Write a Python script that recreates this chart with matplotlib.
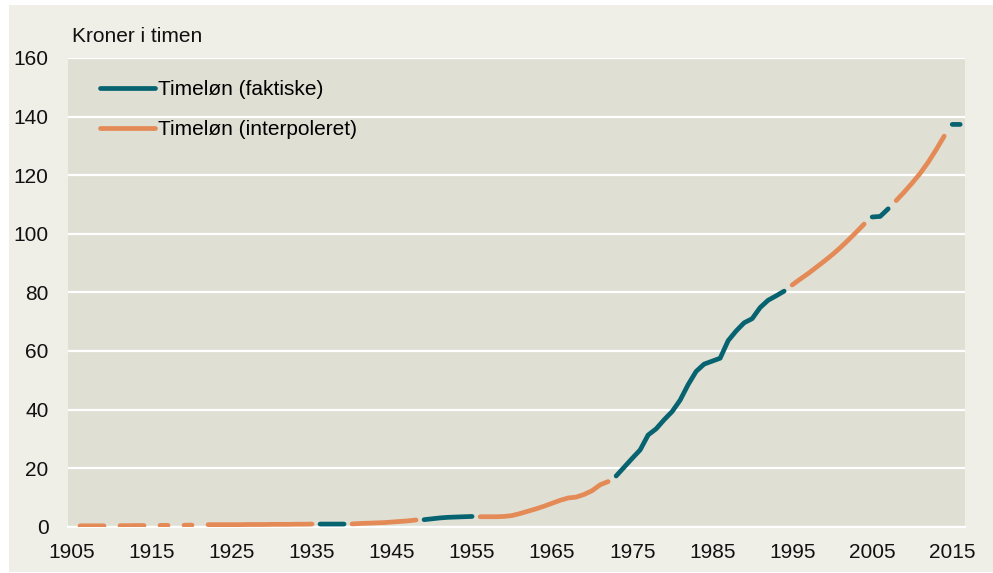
import numpy as np
import matplotlib.pyplot as plt
from matplotlib.patches import Rectangle

plt.rcParams['font.family'] = ['Liberation Sans', 'DejaVu Sans']

nan = np.nan

# år 1906-2016
years = list(range(1906, 2017))

# faktiske timelønninger (kr.)
faktiske = (
    [nan] * 4 + [0.35] + [nan] * 4 + [0.4] + [nan] * 2 + [0.45] + [nan] * 2 + [0.6]   # 1906-1921
    + [nan] * 14                                                                        # 1922-1935
    + [0.9, 0.9, 0.9, 0.9]                                                              # 1936-1939
    + [nan] * 9                                                                         # 1940-1948
    + [2.4, 2.7, 3.0, 3.2, 3.3, 3.4, 3.5]                                               # 1949-1955
    + [nan] * 17                                                                        # 1956-1972
    + [17.3, 20.3, 23.3, 26.2, 31.3, 33.4, 36.5, 39.3, 43.2, 48.5, 53.0,
       55.5, 56.5, 57.5, 63.5, 66.8, 69.6, 71.0, 74.8, 77.3, 78.8, 80.4]               # 1973-1994
    + [nan] * 10                                                                        # 1995-2004
    + [105.7, 105.9, 108.5]                                                             # 2005-2007
    + [nan] * 7                                                                         # 2008-2014
    + [137.3, 137.3]                                                                    # 2015-2016
)

# interpolerede timelønninger (kr.)
interpoleret = (
    [0.3, 0.3, 0.3, 0.3] + [nan] + [0.35, 0.35, 0.4, 0.4] + [nan] + [0.45, 0.45] + [nan]
    + [0.5, 0.55] + [nan]                                                               # 1906-1921
    + [0.7, 0.7, 0.7, 0.7, 0.7, 0.75, 0.75, 0.75, 0.8, 0.8, 0.8, 0.85, 0.85, 0.9]      # 1922-1935
    + [nan] * 4                                                                         # 1936-1939
    + [0.95, 1.1, 1.2, 1.3, 1.4, 1.6, 1.8, 2.0, 2.3]                                    # 1940-1948
    + [nan] * 7                                                                         # 1949-1955
    + [3.4, 3.4, 3.4, 3.5, 3.8, 4.5, 5.3, 6.1, 7.0, 8.0, 9.0, 9.8, 10.1, 11.0,
       12.3, 14.3, 15.4]                                                                # 1956-1972
    + [nan] * 22                                                                        # 1973-1994
    + [82.5, 84.5, 86.4, 88.5, 90.6, 92.8, 95.2, 97.8, 100.5, 103.3]                    # 1995-2004
    + [nan] * 3                                                                         # 2005-2007
    + [111.3, 114.2, 117.3, 120.6, 124.4, 128.7, 133.3]                                 # 2008-2014
    + [nan] * 2                                                                         # 2015-2016
)

xticks = list(range(1905, 2016, 10))
yticks = list(range(0, 161, 20))

teal = '#06636f'
orange = '#e38a56'

fig = plt.figure(figsize=(9.93, 5.73), dpi=100, facecolor='white')
# beige panel bag figuren
fig.patches.append(Rectangle((9 / 993, 1 / 573), 984 / 993, 567 / 573,
                             transform=fig.transFigure, facecolor='#efeee7',
                             edgecolor='none', zorder=-10))

ax = fig.add_axes([68 / 993, 46.3 / 573, 897 / 993, 468.8 / 573])
ax.set_facecolor('#e0dfd4')

ax.plot(years, faktiske, color=teal, lw=3.4, solid_capstyle='round',
        solid_joinstyle='round', label='Timeløn (faktiske)', zorder=3)
ax.plot(years, interpoleret, color=orange, lw=3.4, solid_capstyle='round',
        solid_joinstyle='round', label='Timeløn (interpoleret)', zorder=3)

ax.set_xlim(1904.5, 2016.6)
ax.set_ylim(0, 160)
ax.set_xticks(xticks)
ax.set_yticks(yticks)
ax.tick_params(axis='both', length=0, labelsize=15, colors='#111111')
ax.tick_params(axis='x', pad=12)
ax.tick_params(axis='y', pad=14)

ax.grid(axis='y', color='white', lw=1.6)
ax.set_axisbelow(True)
for side in ['left', 'right', 'top']:
    ax.spines[side].set_visible(False)
ax.spines['bottom'].set_color('white')
ax.spines['bottom'].set_linewidth(1.6)

fig.text(72 / 993, 1 - 36 / 573, 'Kroner i timen', fontsize=15,
         color='#111111', va='center', ha='left')

ax.legend(loc='upper left', bbox_to_anchor=(0.0357, 0.952), frameon=False,
          fontsize=15, handlelength=2.65, handletextpad=0.15,
          labelspacing=1.0, borderpad=0, borderaxespad=0)

plt.savefig('out.png', dpi=100, facecolor=fig.get_facecolor())
